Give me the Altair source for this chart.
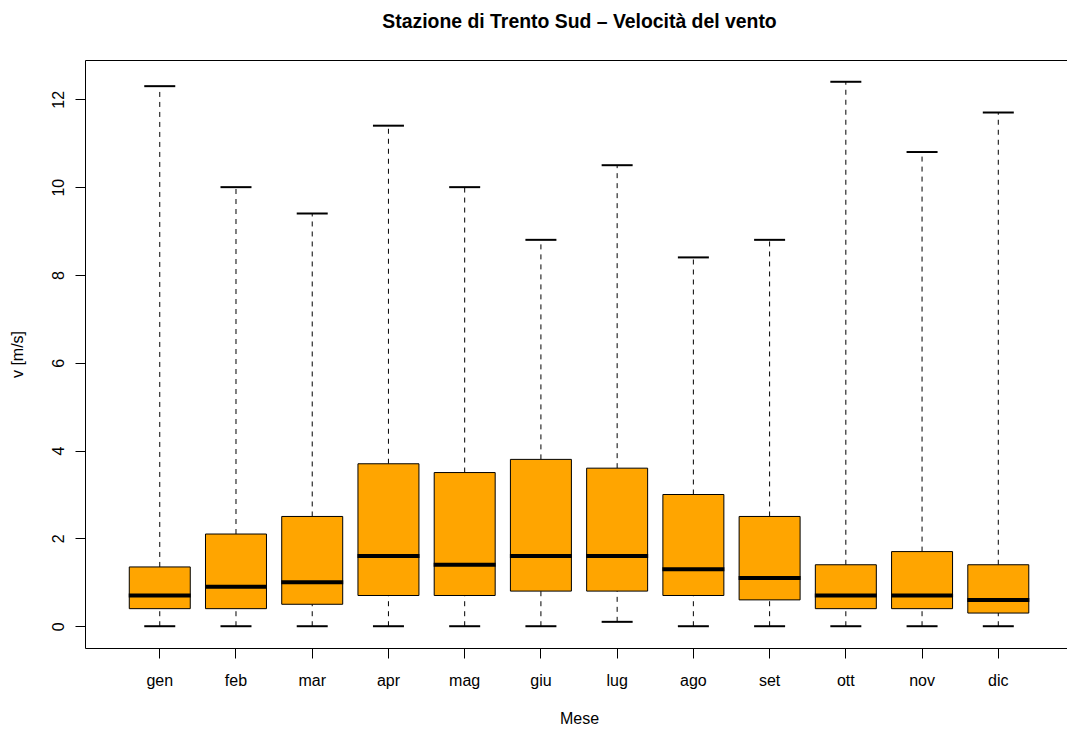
import altair as alt
import pandas as pd

months = ["gen", "feb", "mar", "apr", "mag", "giu", "lug", "ago", "set", "ott", "nov", "dic"]
v_min = [0.0, 0.0, 0.0, 0.0, 0.0, 0.0, 0.1, 0.0, 0.0, 0.0, 0.0, 0.0]
v_q1 = [0.4, 0.4, 0.5, 0.7, 0.7, 0.8, 0.8, 0.7, 0.6, 0.4, 0.4, 0.3]
v_med = [0.7, 0.9, 1.0, 1.6, 1.4, 1.6, 1.6, 1.3, 1.1, 0.7, 0.7, 0.6]
v_q3 = [1.35, 2.1, 2.5, 3.7, 3.5, 3.8, 3.6, 3.0, 2.5, 1.4, 1.7, 1.4]
v_max = [12.3, 10.0, 9.4, 11.4, 10.0, 8.8, 10.5, 8.4, 8.8, 12.4, 10.8, 11.7]
y_ticks = [0, 2, 4, 6, 8, 10, 12]

df = pd.DataFrame({
    "mese": months,
    "vmin": v_min,
    "q1": v_q1,
    "med": v_med,
    "q3": v_q3,
    "vmax": v_max,
})

FONT = "Liberation Sans"

common_axis = dict(
    grid=False,
    domain=False,
    labelFont=FONT,
    labelFontSize=16,
    labelColor="black",
    tickColor="black",
    tickWidth=1,
    titleFont=FONT,
    titleFontSize=16,
    titleFontWeight="normal",
    titleColor="black",
)

x_axis = alt.Axis(
    title="Mese",
    labelAngle=0,
    labelBaseline="alphabetic",
    labelPadding=27,
    tickSize=10,
    titleX=494,
    titleY=75,
    titleAlign="center",
    titleBaseline="alphabetic",
    **common_axis,
)
x_enc = alt.X(
    "mese:N",
    sort=months,
    scale=alt.Scale(type="band", paddingInner=0, paddingOuter=0.441, align=0.545),
    axis=x_axis,
)

y_axis = alt.Axis(
    title="v [m/s]",
    values=y_ticks,
    format="d",
    labelAngle=270,
    labelAlign="center",
    labelBaseline="alphabetic",
    labelPadding=12,
    tickSize=10,
    titleAngle=270,
    titleX=-63,
    titleY=294,
    titleAlign="center",
    titleBaseline="alphabetic",
    **common_axis,
)
y_scale = alt.Scale(domain=[-0.496, 12.896], nice=False, zero=False)


def Y(field):
    return alt.Y(f"{field}:Q", scale=y_scale, axis=y_axis)


base = alt.Chart(df)

whisk_hi = base.mark_rule(color="black", strokeWidth=1, strokeDash=[5, 5]).encode(
    x=x_enc, y=Y("q3"), y2="vmax:Q"
)
whisk_lo = base.mark_rule(color="black", strokeWidth=1, strokeDash=[5, 5]).encode(
    x=x_enc, y=Y("vmin"), y2="q1:Q"
)
box = base.mark_bar(
    width={"band": 0.8}, fill="#FFA500", stroke="black", strokeWidth=1, opacity=1
).encode(x=x_enc, y=Y("q1"), y2="q3:Q")
median = base.mark_tick(color="black", thickness=4, size=62, opacity=1).encode(
    x=x_enc, y=Y("med")
)
cap_hi = base.mark_tick(color="black", thickness=2, size=31, opacity=1).encode(
    x=x_enc, y=Y("vmax")
)
cap_lo = base.mark_tick(color="black", thickness=2, size=31, opacity=1).encode(
    x=x_enc, y=Y("vmin")
)

chart = (
    alt.layer(whisk_hi, whisk_lo, box, median, cap_hi, cap_lo)
    .properties(
        width=982,
        height=588,
        background="white",
        title=alt.TitleParams(
            "Stazione di Trento Sud \u2013 Velocit\u00e0 del vento",
            anchor="middle",
            frame="group",
            baseline="alphabetic",
            offset=13,
            dx=3.5,
            font=FONT,
            fontSize=19.4,
            fontWeight="bold",
            color="black",
        ),
        autosize=alt.AutoSizeParams(type="none"),
        padding={"left": 77, "top": 52, "right": 0, "bottom": 77},
    )
    .configure_view(stroke="black", strokeWidth=1)
)

chart.save("out.html", embed_options={"renderer": "svg", "actions": False})
